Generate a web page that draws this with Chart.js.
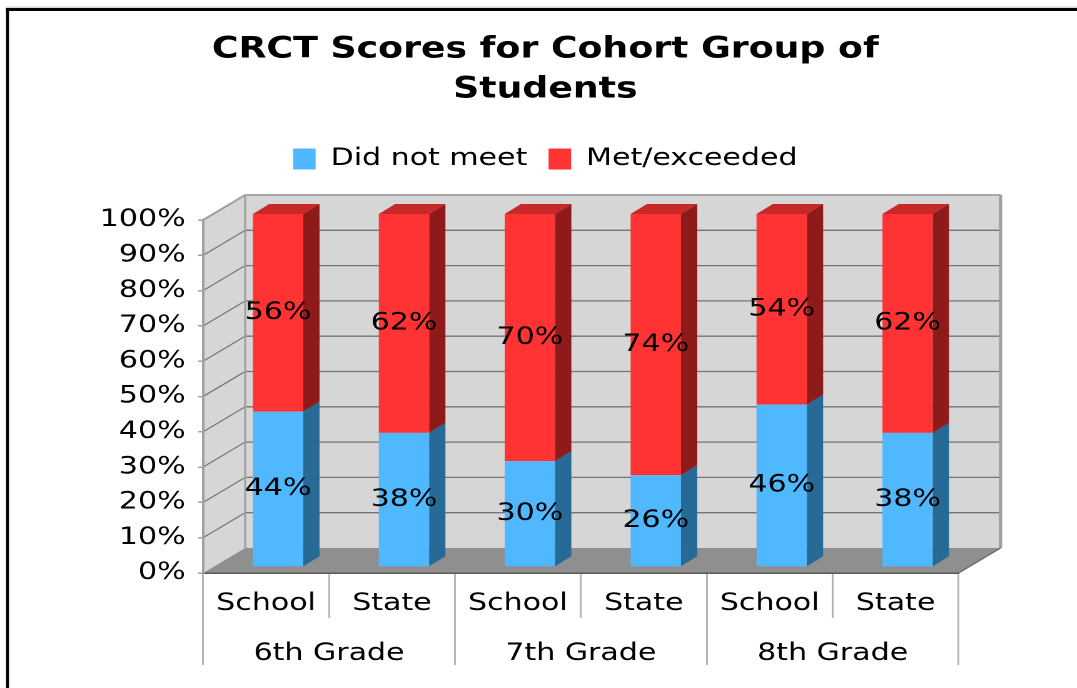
<!DOCTYPE html>
<html><head><meta charset="utf-8">
<script src="https://cdn.jsdelivr.net/npm/chart.js@4.4.1/dist/chart.umd.min.js"></script>
<style>
html,body{margin:0;padding:0;background:#fff;overflow:hidden;width:1077px;height:688px;}
#wrap{position:absolute;left:0;top:0;width:861.6px;height:688px;transform:scaleX(1.25);transform-origin:0 0;}
</style></head><body>
<div id="wrap"><canvas id="c"></canvas></div>
<script>
// ---- data ----
const categories = ['School', 'State', 'School', 'State', 'School', 'State'];
const grades = ['6th Grade', '7th Grade', '8th Grade'];
const didNotMeet = [44, 38, 30, 26, 46, 38];
const metExceeded = [56, 62, 70, 74, 54, 62];
const seriesNames = ['Did not meet', 'Met/exceeded'];
const titleLines = ['CRCT Scores for Cohort Group of', 'Students'];

// ---- geometry / style ----
const FONT = 'DejaVu Sans';
const WALL_DX = 33.6, WALL_DY = 25;     // depth of the 3D box
const BAR_OX = 9.6, BAR_OY = -6;        // bar front offset inside the box
const BAR_DX = 13, BAR_DY = 10;         // bar depth

Chart.defaults.font.family = FONT;
Chart.defaults.color = '#000';

function poly(ctx, pts, fill) {
  ctx.beginPath();
  ctx.moveTo(pts[0][0], pts[0][1]);
  for (let i = 1; i < pts.length; i++) ctx.lineTo(pts[i][0], pts[i][1]);
  ctx.closePath();
  ctx.fillStyle = fill;
  ctx.fill();
}
function line(ctx, x1, y1, x2, y2, color, w) {
  ctx.beginPath();
  ctx.moveTo(x1, y1); ctx.lineTo(x2, y2);
  ctx.strokeStyle = color; ctx.lineWidth = w;
  ctx.stroke();
}

const threeD = {
  id: 'threeD',
  beforeDraw(chart) {
    const {ctx, chartArea: a, scales: {y}} = chart;
    const L = a.left, R = a.right, T = a.top, B = a.bottom;
    ctx.save();
    // outer frame
    ctx.fillStyle = '#c8c8c8';
    ctx.fillRect(4.4, 6.5, 1000, 1.2);
    ctx.fillStyle = '#000';
    ctx.fillRect(4.8, 8, 1000, 3);
    ctx.fillRect(4.8, 8, 2.4, 800);
    // walls
    poly(ctx, [[L, T], [L + WALL_DX, T - WALL_DY], [L + WALL_DX, B - WALL_DY], [L, B]], '#d6d6d6');
    poly(ctx, [[L + WALL_DX, T - WALL_DY], [R + WALL_DX, T - WALL_DY], [R + WALL_DX, B - WALL_DY], [L + WALL_DX, B - WALL_DY]], '#d6d6d6');
    // grid lines on the walls
    y.ticks.forEach(t => {
      if (t.value <= 0 || t.value >= 100) return;
      const py = y.getPixelForValue(t.value);
      line(ctx, L + WALL_DX, py - WALL_DY, R + WALL_DX, py - WALL_DY, '#747474', 1.3);
      line(ctx, L, py, L + WALL_DX, py - WALL_DY, '#747474', 1.1);
    });
    // floor
    poly(ctx, [[L, B], [R, B], [R + WALL_DX, B - WALL_DY], [L + WALL_DX, B - WALL_DY]], '#8f8f8f');
    // edges
    line(ctx, L, T, L + WALL_DX, T - WALL_DY, '#a0a0a0', 2);
    line(ctx, L + WALL_DX, T - WALL_DY, R + WALL_DX, T - WALL_DY, '#a8a8a8', 2);
    line(ctx, L + WALL_DX, T - WALL_DY, L + WALL_DX, B - WALL_DY, '#a0a0a0', 1.6);
    line(ctx, R + WALL_DX, T - WALL_DY, R + WALL_DX, B - WALL_DY, '#a0a0a0', 2.6);
    line(ctx, R, B, R + WALL_DX, B - WALL_DY, '#6a6a6a', 1.2);
    ctx.restore();
  },
  beforeDatasetsDraw(chart) {
    chart.ctx.save();
    chart.ctx.translate(BAR_OX, BAR_OY);
  },
  afterDatasetsDraw(chart) {
    const ctx = chart.ctx;
    const n = chart.data.datasets.length;
    chart.data.datasets.forEach((ds, di) => {
      const meta = chart.getDatasetMeta(di);
      meta.data.forEach(el => {
        const {x, y, base, width} = el.getProps(['x', 'y', 'base', 'width'], true);
        const xl = x - width / 2, xr = x + width / 2;
        const top = Math.min(y, base), bot = Math.max(y, base);
        poly(ctx, [[xr, top], [xr + BAR_DX, top - BAR_DY], [xr + BAR_DX, bot - BAR_DY], [xr, bot]], ds.sideColor);
        if (di === n - 1) {
          poly(ctx, [[xl, top], [xl + BAR_DX, top - BAR_DY], [xr + BAR_DX, top - BAR_DY], [xr, top]], ds.topColor);
        }
      });
    });
    ctx.restore();
    // value labels
    ctx.save();
    ctx.font = '24px "' + FONT + '"';
    ctx.fillStyle = '#000';
    ctx.textAlign = 'center';
    ctx.textBaseline = 'middle';
    chart.data.datasets.forEach((ds, di) => {
      const meta = chart.getDatasetMeta(di);
      meta.data.forEach((el, i) => {
        const {x, y, base} = el.getProps(['x', 'y', 'base'], true);
        ctx.fillText(ds.data[i] + '%', x + BAR_OX, (y + base) / 2 + BAR_OY);
      });
    });
    ctx.restore();
  }
};

new Chart(document.getElementById('c'), {
  type: 'bar',
  data: {
    labels: categories,
    datasets: [
      {label: seriesNames[0], data: didNotMeet, backgroundColor: '#4fb8ff', sideColor: '#276a96', topColor: '#3f9ad6', borderWidth: 0, clip: false},
      {label: seriesNames[1], data: metExceeded, backgroundColor: '#ff3333', sideColor: '#8e1a1a', topColor: '#c82828', borderWidth: 0, clip: false}
    ]
  },
  options: {
    responsive: true,
    maintainAspectRatio: false,
    animation: false,
    devicePixelRatio: 2,
    layout: {padding: {left: 65.6, right: 55.2, top: 10, bottom: 23}},
    datasets: {bar: {barPercentage: 0.4, categoryPercentage: 1}},
    plugins: {
      title: {
        display: true, text: titleLines, color: '#000',
        font: {family: FONT, size: 29, weight: 'bold', lineHeight: '40px'},
        padding: {top: 20, bottom: 20}
      },
      subtitle: {
        display: true, text: '', weight: 500,
        font: {size: 1, lineHeight: '1px'},
        padding: {top: 38, bottom: 0}
      },
      legend: {
        display: true, position: 'top',
        labels: {boxWidth: 18, boxHeight: 21, padding: 17, color: '#000', font: {family: FONT, size: 24}}
      },
      tooltip: {enabled: false}
    },
    scales: {
      x: {
        type: 'category', stacked: true, offset: true, position: 'bottom',
        grid: {offset: true, drawOnChartArea: false, drawTicks: true, tickLength: 45, color: '#b4b4b4', lineWidth: 1.5},
        border: {display: true, color: '#5a5a5a', width: 1.5},
        ticks: {font: {family: FONT, size: 24}, color: '#000', padding: -28.4, maxRotation: 0, autoSkip: false},
        afterFit(s) { s.height = 45; }
      },
      x2: {
        type: 'category', labels: grades, offset: true, position: 'bottom',
        grid: {offset: true, drawOnChartArea: false, drawTicks: true, tickLength: 47, color: '#b4b4b4', lineWidth: 1.5},
        border: {display: false},
        ticks: {font: {family: FONT, size: 24}, color: '#000', padding: -25.4, maxRotation: 0, autoSkip: false},
        afterFit(s) { s.height = 47; }
      },
      y: {
        stacked: true, min: 0, max: 100,
        grid: {drawOnChartArea: false, drawTicks: true, tickLength: 4, color: '#a0a0a0', lineWidth: 1.5},
        border: {display: true, color: '#a0a0a0', width: 2},
        ticks: {stepSize: 10, padding: 10, color: '#000', font: {family: FONT, size: 24}, callback: v => v + '%'},
        afterFit(s) { s.width = 96.8; }
      },
      yPad: {
        position: 'right', min: 0, max: 100,
        grid: {display: false, drawTicks: false}, border: {display: false}, ticks: {display: false},
        afterFit(s) { s.width = 40; }
      }
    }
  },
  plugins: [threeD]
});
</script>
</body></html>
